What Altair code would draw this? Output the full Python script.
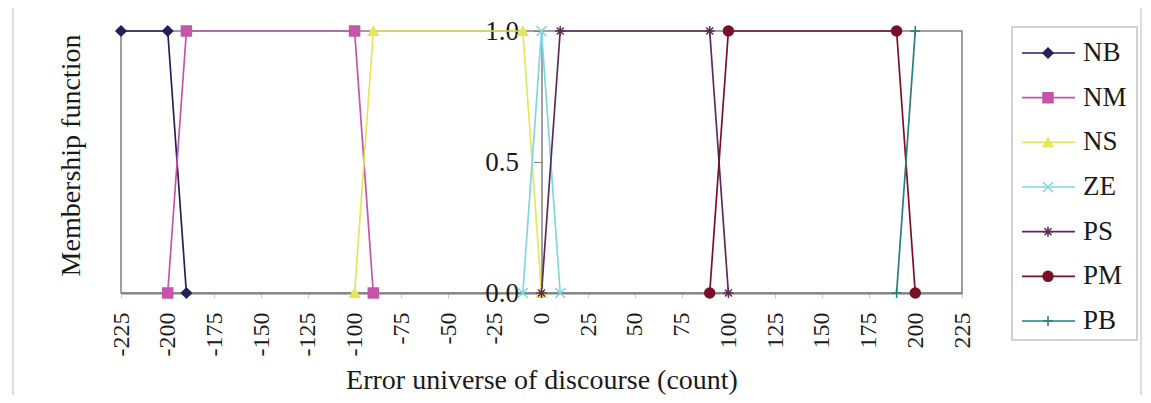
import altair as alt
import pandas as pd

series = ["NB", "NM", "NS", "ZE", "PS", "PM", "PB"]
colors = ["#22225a", "#c455a8", "#e6e65a", "#7fd8e0", "#5e2a58", "#7a1028", "#2a7f7a"]
shapes = [
    "diamond",
    "square",
    "triangle-up",
    "M-1,-1L1,1M-1,1L1,-1",
    "M-1,0H1M0,-1V1M-0.7,-0.7L0.7,0.7M-0.7,0.7L0.7,-0.7",
    "circle",
    "M0,-1V1M-1,0H1",
]

nb_x = [-225, -200, -190]
nb_y = [1, 1, 0]
nm_x = [-200, -190, -100, -90]
nm_y = [0, 1, 1, 0]
ns_x = [-100, -90, -10, 0]
ns_y = [0, 1, 1, 0]
ze_x = [-10, 0, 10]
ze_y = [0, 1, 0]
ps_x = [0, 10, 90, 100]
ps_y = [0, 1, 1, 0]
pm_x = [90, 100, 190, 200]
pm_y = [0, 1, 1, 0]
pb_x = [190, 200]
pb_y = [0, 1]

x_ticks = list(range(-225, 226, 25))
y_ticks = [0, 0.5, 1]

xs_all = [nb_x, nm_x, ns_x, ze_x, ps_x, pm_x, pb_x]
ys_all = [nb_y, nm_y, ns_y, ze_y, ps_y, pm_y, pb_y]
rows = []
for name, xs, ys in zip(series, xs_all, ys_all):
    for i, (xv, yv) in enumerate(zip(xs, ys)):
        rows.append({"series": name, "x": xv, "y": yv, "order": i})
df = pd.DataFrame(rows)
legend_df = pd.DataFrame({"series": series})

FONT = "Liberation Serif"
color_scale = alt.Scale(domain=series, range=colors)
shape_scale = alt.Scale(domain=series, range=shapes)

x_enc = alt.X(
    "x:Q",
    scale=alt.Scale(domain=[-225, 225], nice=False, zero=False),
    axis=alt.Axis(
        values=x_ticks,
        labelExpr="'' + datum.value",
        labelAngle=270,
        labelFont=FONT,
        labelFontSize=24,
        labelColor="#1a1a1a",
        labelPadding=14,
        labelOverlap=False,
        labelFlush=False,
        tickSize=5,
        tickColor="#c8c8c8",
        domainColor="#808080",
        domainWidth=2,
        grid=False,
        title="Error universe of discourse (count)",
        titleFont=FONT,
        titleFontSize=28,
        titleFontWeight="normal",
        titleColor="#1a1a1a",
        titleBaseline="alphabetic",
        titleY=95,
    ),
)

y_enc = alt.Y(
    "y:Q",
    scale=alt.Scale(domain=[0, 1], nice=False),
    axis=alt.Axis(
        values=y_ticks,
        format=".1f",
        offset=-420.5,
        domainColor="#808080",
        domainWidth=1.5,
        tickColor="#808080",
        tickSize=8,
        labelPadding=15,
        labelFont=FONT,
        labelFontSize=27,
        labelColor="#1a1a1a",
        grid=False,
        title="Membership function",
        titleFont=FONT,
        titleFontSize=28,
        titleFontWeight="normal",
        titleColor="#1a1a1a",
        titleX=-470.5,
        titleY=124,
        titleAngle=270,
        titleAlign="center",
        titleBaseline="middle",
    ),
)

lines = alt.Chart(df).mark_line(strokeWidth=1.7).encode(
    x=x_enc,
    y=y_enc,
    color=alt.Color("series:N", scale=color_scale, legend=None),
    order="order:Q",
)

points = alt.Chart(df).mark_point(filled=True, size=100, strokeWidth=1.5, opacity=1).encode(
    x="x:Q",
    y="y:Q",
    color=alt.Color("series:N", scale=color_scale, legend=None),
    stroke=alt.Stroke("series:N", scale=color_scale, legend=None),
    shape=alt.Shape("series:N", scale=shape_scale, legend=None),
)

main = alt.layer(lines, points)

leg_y = alt.Y("series:N", sort=series, scale=alt.Scale(type="point", domain=series, range=[22, 290], padding=0), axis=None)

leg_box = alt.Chart(pd.DataFrame({"a": [0]})).mark_rect(
    fill="white", stroke="#c4c4c4", strokeWidth=1.5
).encode(x=alt.value(891), x2=alt.value(1016), y=alt.value(-4), y2=alt.value(309))

leg_lines = alt.Chart(legend_df).mark_rule(strokeWidth=1.7).encode(
    x=alt.value(901), x2=alt.value(954), y=leg_y,
    color=alt.Color("series:N", scale=color_scale, legend=None),
)
leg_pts = alt.Chart(legend_df).mark_point(filled=True, size=100, strokeWidth=1.5, opacity=1).encode(
    x=alt.value(927), y=leg_y,
    color=alt.Color("series:N", scale=color_scale, legend=None),
    stroke=alt.Stroke("series:N", scale=color_scale, legend=None),
    shape=alt.Shape("series:N", scale=shape_scale, legend=None),
)
leg_text = alt.Chart(legend_df).mark_text(
    align="left", baseline="middle", font=FONT, fontSize=27, color="#1a1a1a"
).encode(x=alt.value(962), y=leg_y, text="series:N")

frame_l = alt.Chart(pd.DataFrame({"a": [0]})).mark_rule(color="#d0d0d0", strokeWidth=1.5).encode(
    x=alt.value(-108), y=alt.value(-26), y2=alt.value(364)
)
frame_r = alt.Chart(pd.DataFrame({"a": [0]})).mark_rule(color="#d0d0d0", strokeWidth=1.5).encode(
    x=alt.value(1020), y=alt.value(-26), y2=alt.value(364)
)

legend = alt.layer(leg_box, leg_lines, leg_pts, leg_text)

chart = (
    alt.layer(frame_l, frame_r, main, legend)
    .resolve_scale(y="independent")
    .properties(
        width=841,
        height=262,
        autosize=alt.AutoSizeParams(type="none"),
        padding={"left": 113, "top": 23, "right": 181, "bottom": 102},
        background="white",
    )
    .configure_view(stroke="#808080", strokeWidth=1.5)
)

chart.save("out.html", embed_options={"renderer": "svg", "actions": False})
